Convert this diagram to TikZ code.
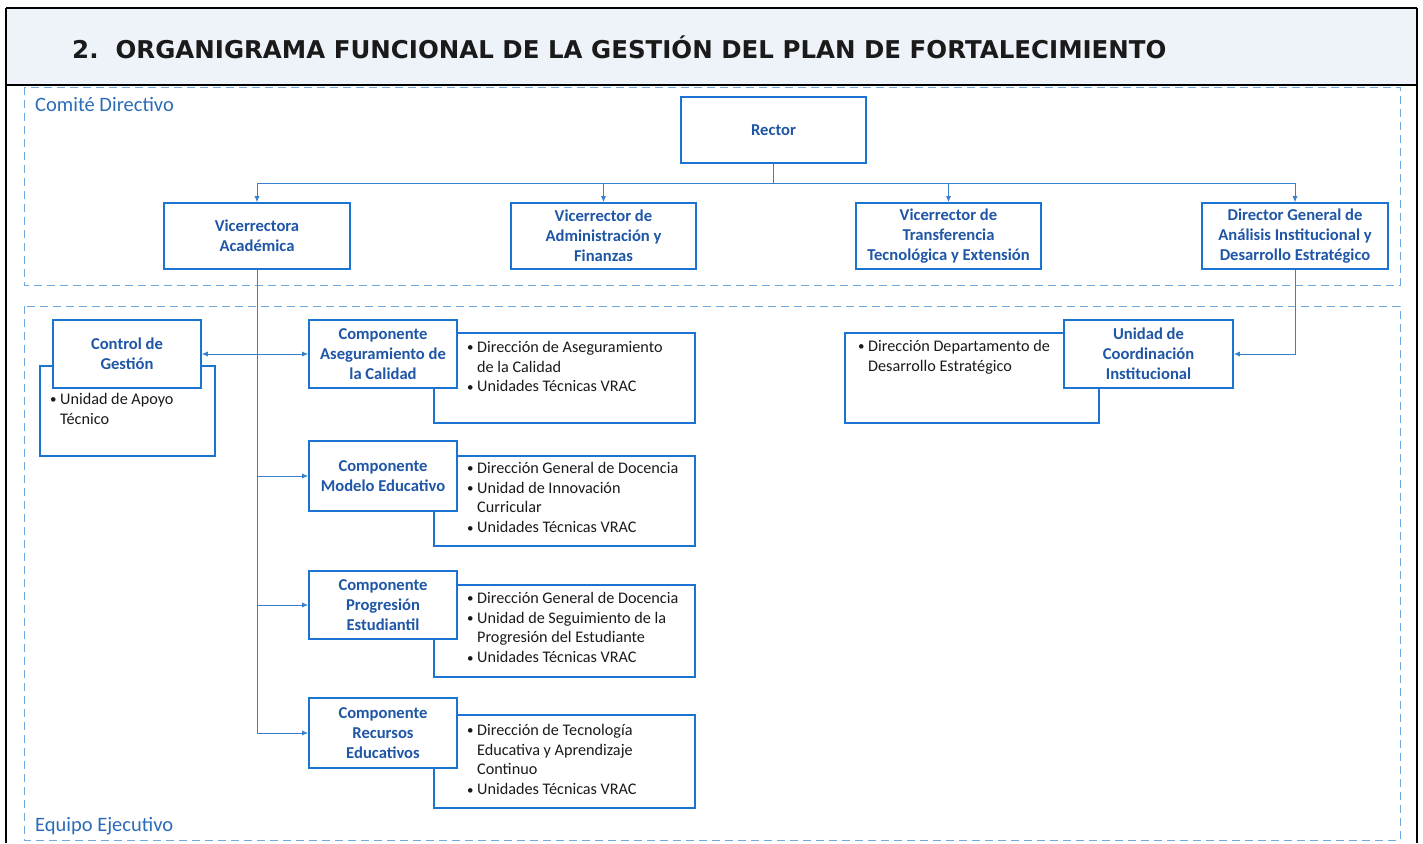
\documentclass[tikz,border=0pt]{standalone}
\usepackage{fontspec}
\setmainfont{Carlito}
\newfontfamily\titlefont{DejaVu Sans}
\usetikzlibrary{arrows.meta}
\definecolor{boxblue}{HTML}{1B74D1}
\definecolor{txtblue}{HTML}{1F56A6}
\definecolor{lineblue}{HTML}{3A7FCC}
\definecolor{dashblue}{HTML}{6FA8DC}
\definecolor{lblblue}{HTML}{2B6CB8}
\definecolor{bandfill}{HTML}{EDF3F9}
\definecolor{bodytxt}{HTML}{1A1A1A}
\newcommand\bu{\makebox[10pt][l]{\raisebox{0.5pt}{\scalebox{0.8}{•}}}}
\newcommand\ind{\hspace*{10pt}}
\begin{document}
\begin{tikzpicture}[x=1pt,y=-1pt,
  box/.style={draw=boxblue,line width=1.6pt,fill=white,inner sep=0pt,align=center,text=txtblue,font=\fontsize{16.6}{20}\selectfont\bfseries},
  backbox/.style={draw=boxblue,line width=1.1pt,inner sep=0pt},
  lst/.style={inner sep=0pt,align=left,anchor=north west,text=bodytxt,font=\fontsize{16.2}{19.7}\selectfont},
  conn/.style={draw=lineblue,line width=0.8pt},
  arr/.style={conn,-{Latex[length=6pt,width=5pt]}},
  dashln/.style={draw=dashblue,line width=1pt,dash pattern=on 8pt off 5pt},
  region/.style={text=lblblue,font=\fontsize{20.5}{24}\selectfont,anchor=west,inner sep=0pt}]
\useasboundingbox (0,0) rectangle (1423,843);
% title band
\fill[bandfill] (6,8) rectangle (1417,85);
\draw[line width=2pt] (6,8) -- (1417,8);
\draw[line width=1.5pt] (6,85) -- (1417,85);
\draw[line width=1.2pt] (6,8) -- (6,843);
\draw[line width=1.2pt] (1417,8) -- (1417,843);
\node[anchor=west,inner sep=0pt,text=bodytxt,font=\titlefont\fontsize{24.5}{28}\selectfont\bfseries] (title) at (72,47) {2.\ \ ORGANIGRAMA FUNCIONAL DE LA GESTIÓN DEL PLAN DE FORTALECIMIENTO};
% regions
\draw[dashln] (24,87) rectangle (1400,285);
\draw[dashln] (24,306) rectangle (1400,840);
\node[region] (cd) at (35,104) {Comité Directivo};
\node[region] (ee) at (35,826) {Equipo Ejecutivo};
% back boxes
\node[backbox,minimum width=175pt,minimum height=90pt] (CGb) at (127.5,411) {};
\node[backbox,minimum width=261pt,minimum height=90pt] (CACb) at (564.5,378) {};
\node[backbox,minimum width=261pt,minimum height=90pt] (CMEb) at (564.5,501) {};
\node[backbox,minimum width=261pt,minimum height=92pt] (CPEb) at (564.5,631) {};
\node[backbox,minimum width=261pt,minimum height=93pt] (CREb) at (564.5,761.5) {};
\node[backbox,minimum width=254pt,minimum height=90pt] (UCb) at (972,378) {};
% lists
\node[lst] (CGl) at (50,393) {\bu Unidad de Apoyo\\\ind Técnico};
\node[lst] (CACl) at (467,341) {\bu Dirección de Aseguramiento\\\ind de la Calidad\\\bu Unidades Técnicas VRAC};
\node[lst] (CMEl) at (467,462) {\bu Dirección General de Docencia\\\bu Unidad de Innovación\\\ind Curricular\\\bu Unidades Técnicas VRAC};
\node[lst] (CPEl) at (467,592) {\bu Dirección General de Docencia\\\bu Unidad de Seguimiento de la\\\ind Progresión del Estudiante\\\bu Unidades Técnicas VRAC};
\node[lst] (CREl) at (467,724) {\bu Dirección de Tecnología\\\ind Educativa y Aprendizaje\\\ind Continuo\\\bu Unidades Técnicas VRAC};
\node[lst] (UCl) at (858,340) {\bu Dirección Departamento de\\\ind Desarrollo Estratégico};
% main boxes
\node[box,minimum width=185pt,minimum height=66pt] (R) at (773.5,130) {Rector};
\node[box,minimum width=186pt,minimum height=66pt] (VA) at (257,236) {Vicerrectora\\Académica};
\node[box,minimum width=185pt,minimum height=66pt] (VAF) at (603.5,236) {Vicerrector de\\Administración y\\Finanzas};
\node[box,minimum width=185pt,minimum height=66pt] (VTT) at (948.5,236) {Vicerrector de\\Transferencia\\Tecnológica y Extensión};
\node[box,minimum width=186pt,minimum height=66pt] (DG) at (1295,236) {Director General de\\Análisis Institucional y\\Desarrollo Estratégico};
\node[box,minimum width=148pt,minimum height=68pt] (CG) at (127,354) {Control de\\Gestión};
\node[box,minimum width=148pt,minimum height=68pt] (CAC) at (383,354) {Componente\\Aseguramiento de\\la Calidad};
\node[box,minimum width=148pt,minimum height=70pt] (CME) at (383,476) {Componente\\Modelo Educativo};
\node[box,minimum width=148pt,minimum height=68pt] (CPE) at (383,605) {Componente\\Progresión\\Estudiantil};
\node[box,minimum width=148pt,minimum height=70pt] (CRE) at (383,733) {Componente\\Recursos\\Educativos};
\node[box,minimum width=169pt,minimum height=68pt] (UC) at (1148.5,354) {Unidad de\\Coordinación\\Institucional};
% connectors
\coordinate (bus) at (773.5,183);
\draw[conn] (R.south) -- (bus);
\draw[arr] (bus) -| (VA.north);
\draw[arr] (bus) -| (VAF.north);
\draw[arr] (bus) -| (VTT.north);
\draw[arr] (bus) -| (DG.north);
\draw[arr] (VA.south) |- (CRE.west);
\draw[arr] (VA.south |- CAC.west) -- (CAC.west);
\draw[arr] (VA.south |- CG.east) -- (CG.east);
\draw[arr] (VA.south |- CME.west) -- (CME.west);
\draw[arr] (VA.south |- CPE.west) -- (CPE.west);
\draw[arr] (DG.south) |- (UC.east);
\end{tikzpicture}
\end{document}
